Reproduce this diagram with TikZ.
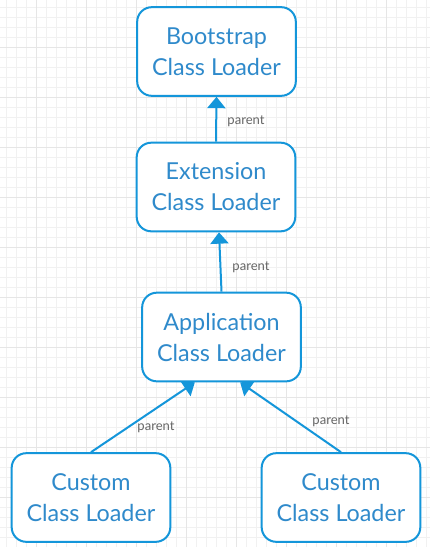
\documentclass[tikz,border=0pt]{standalone}
\usepackage{fontspec}
\setmainfont{Lato}
\usetikzlibrary{arrows.meta}
\definecolor{boxline}{HTML}{1496DA}
\definecolor{boxtext}{HTML}{2F8ACB}
\definecolor{labtext}{HTML}{666666}
\definecolor{gridminor}{HTML}{F1F1F1}
\definecolor{gridmajor}{HTML}{E6E6E6}
\begin{document}
\begin{tikzpicture}[x=0.75pt,y=-0.75pt,
  loader/.style={draw=boxline,line width=1.5pt,rounded corners=11pt,fill=white,
    minimum width=119pt,minimum height=66.5pt,inner sep=0pt,align=center,
    text=boxtext,font=\fontsize{17.5}{23.25}\selectfont},
  link/.style={draw=boxline,line width=1.5pt,-{Triangle[width=13.5pt,length=8.5pt]}},
  lab/.style={text=labtext,font=\fontsize{9.8}{12}\selectfont,inner sep=0pt}]
\useasboundingbox (0,0) rectangle (430,547);
\fill[white] (0,0) rectangle (430,547);
\foreach \i in {0,...,42} {
  \draw[gridminor,line width=0.6pt] ({6+10*\i},0) -- ({6+10*\i},547);
}
\foreach \j in {0,...,54} {
  \draw[gridminor,line width=0.6pt] (0,{7+10*\j}) -- (430,{7+10*\j});
}
\foreach \i in {0,...,8} {
  \draw[gridmajor,line width=0.6pt] ({36+50*\i},0) -- ({36+50*\i},547);
}
\foreach \j in {0,...,10} {
  \draw[gridmajor,line width=0.6pt] (0,{47+50*\j}) -- (430,{47+50*\j});
}
\node[loader] (boot) at (216.5,51.5) {Bootstrap\\Class Loader};
\node[loader] (ext) at (216,187) {Extension\\Class Loader};
\node[loader] (app) at (221.5,337) {Application\\Class Loader};
\node[loader] (cl) at (91,497.5) {Custom\\Class Loader};
\node[loader] (cr) at (341,497.5) {Custom\\Class Loader};
\draw[link] (ext.north) -- (boot.south);
\draw[link] (app.north) -- ([xshift=2.25pt]ext.south);
\draw[link] (cl.north) -- ([xshift=-20pt]app.south);
\draw[link] (cr.north) -- ([xshift=14pt]app.south);
\node[lab] (l1) at (246,121) {parent};
\node[lab] (l2) at (251,267) {parent};
\node[lab] (l3) at (156,427) {parent};
\node[lab] (l4) at (331,421) {parent};
\end{tikzpicture}
\end{document}
